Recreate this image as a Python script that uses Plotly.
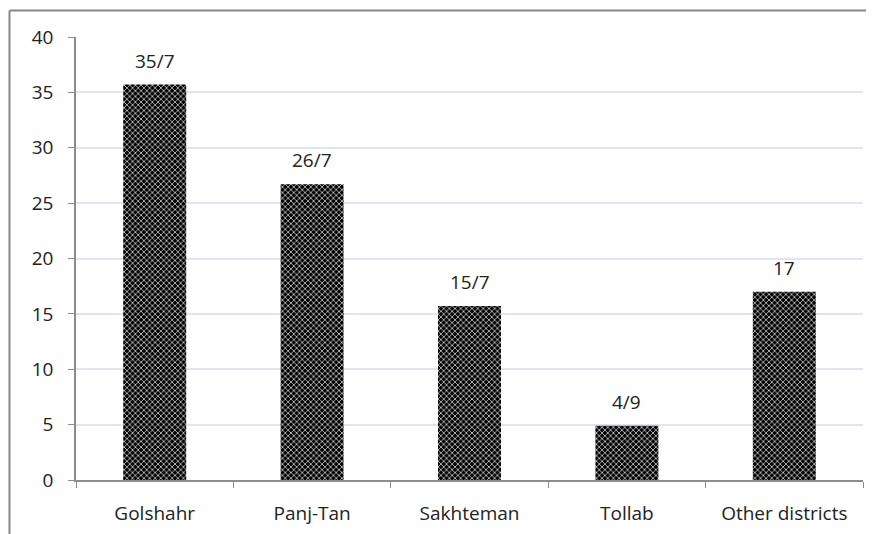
import plotly.graph_objects as go

categories = ["Golshahr", "Panj-Tan", "Sakhteman", "Tollab", "Other districts"]
values = [35.7, 26.7, 15.7, 4.9, 17]
labels = ["35/7", "26/7", "15/7", "4/9", "17"]
y_ticks = [0, 5, 10, 15, 20, 25, 30, 35, 40]

# page has an 8px body margin; figure coords = page coords - 8
W, H = 866, 526
ml, mt = 76 - 8, 37 - 8
mr = W - (863 - 8)
mb = H - (480 - 8)
pw, ph = W - ml - mr, H - mt - mb

fig = go.Figure()
fig.add_trace(go.Bar(
    x=categories, y=values, width=0.4,
    marker=dict(color="black", line=dict(width=0),
                pattern=dict(shape="x", fgcolor="white", bgcolor="black",
                             size=4, solidity=0.3, fillmode="replace")),
    hoverinfo="skip",
))
for c, v, t in zip(categories, values, labels):
    fig.add_annotation(x=c, y=v, text=t, showarrow=False, yshift=24,
                       font=dict(size=19, color="#222"))

bx = (1.5 - ml) / pw
by = 1 + (mt - 2.5) / ph
fig.add_shape(type="line", xref="paper", yref="paper", x0=bx, x1=1.1, y0=by, y1=by,
              line=dict(color="#888888", width=2))
fig.add_shape(type="line", xref="paper", yref="paper", x0=bx, x1=bx, y0=by, y1=-0.3,
              line=dict(color="#888888", width=2))

fig.update_layout(
    width=W, height=H, margin=dict(l=ml, r=mr, t=mt, b=mb),
    paper_bgcolor="white", plot_bgcolor="white", showlegend=False,
    font=dict(family="Open Sans", size=19, color="#222"),
    bargap=0.6,
)
fig.update_xaxes(showline=True, linecolor="#8c8c8c", linewidth=1.5, ticks="outside",
                 tickson="boundaries", ticklen=6, tickcolor="#8c8c8c", showgrid=False,
                 tickfont=dict(size=19), range=[-0.5, 4.5], automargin=False,
                 ticklabelstandoff=15)
fig.update_yaxes(range=[0, 40], tickvals=y_ticks, showline=True, linecolor="#8c8c8c",
                 linewidth=1.5, ticks="outside", ticklen=6, tickcolor="#8c8c8c",
                 gridcolor="#dde6f3", gridwidth=1.5, zeroline=False,
                 tickfont=dict(size=19), automargin=False, ticklabelstandoff=11)

fig.write_html("out.html")
